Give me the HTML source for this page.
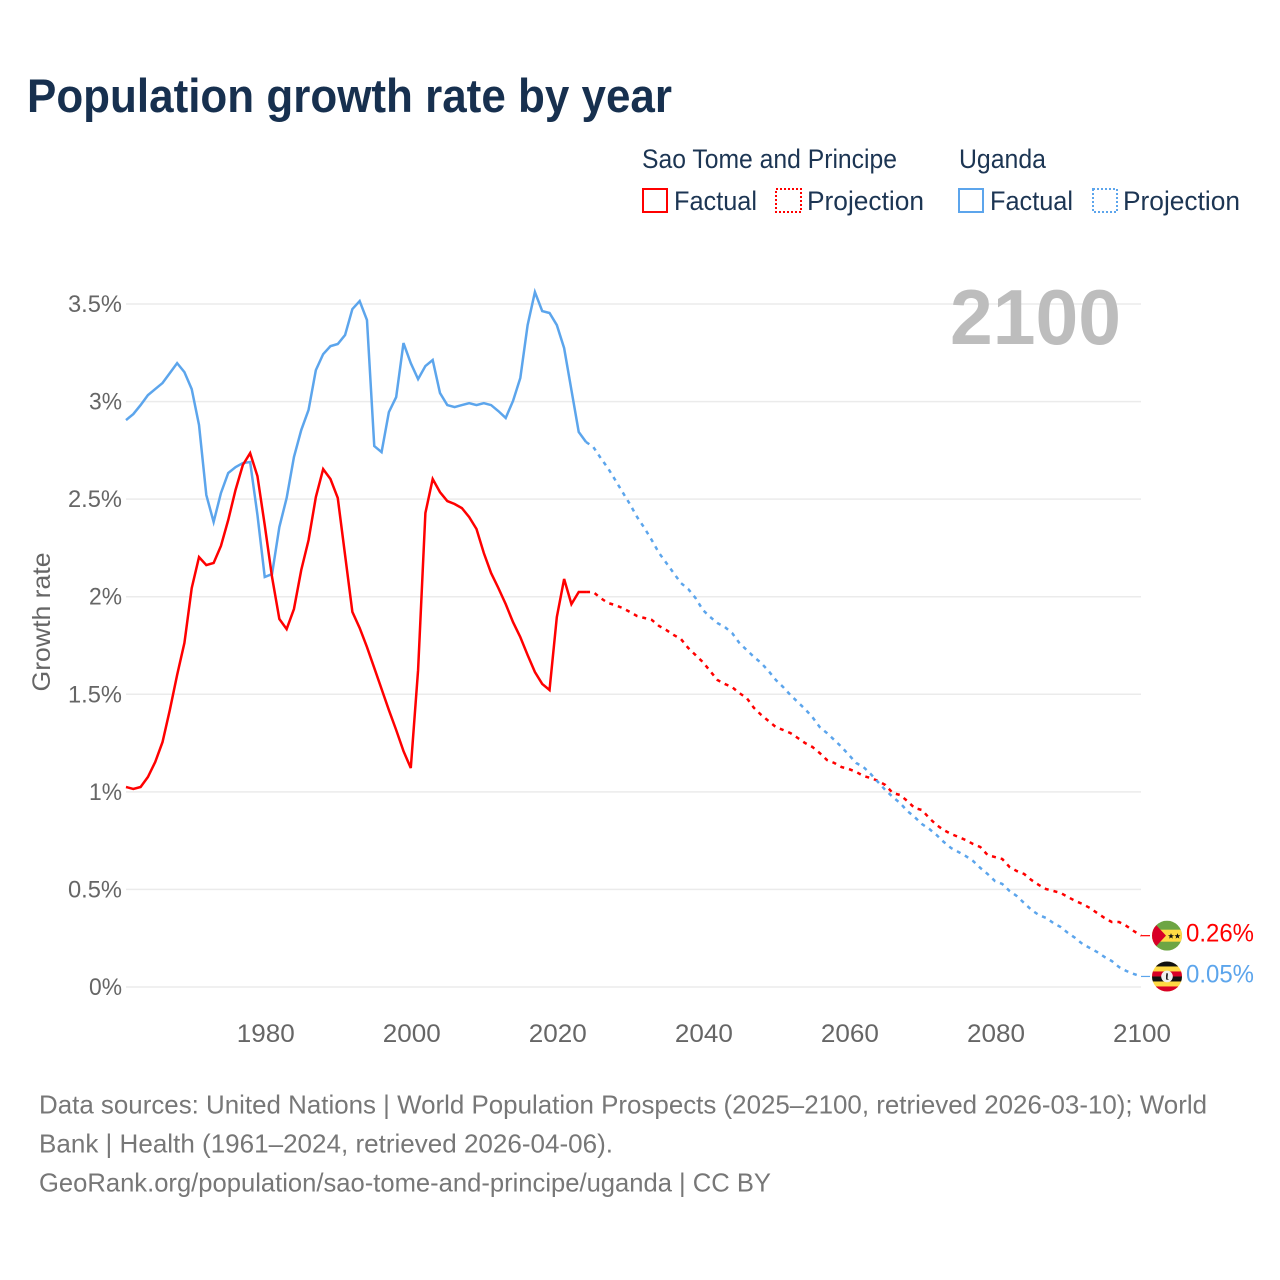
<!DOCTYPE html>
<html lang="en">
<head>
<meta charset="utf-8">
<title>Population growth rate by year</title>
<style>
html,body{margin:0;padding:0;background:#fff;}
svg{display:block;}
text{font-family:"Liberation Sans",sans-serif;}
</style>
</head>
<body>
<svg id="chart" width="1280" height="1280" viewBox="0 0 1280 1280" xmlns="http://www.w3.org/2000/svg">
  <defs>
    <clipPath id="flag-clip-a"><circle cx="0" cy="0" r="15"/></clipPath>
    <clipPath id="flag-clip-b"><circle cx="0" cy="0" r="15"/></clipPath>
  </defs>
  <rect width="1280" height="1280" fill="#ffffff"/>
  <text x="27" y="112" font-size="47" font-weight="700" fill="#17304f" textLength="645" lengthAdjust="spacingAndGlyphs">Population growth rate by year</text>

  <g font-size="27" fill="#1c3553">
    <text x="642" y="168" textLength="255" lengthAdjust="spacingAndGlyphs">Sao Tome and Principe</text>
    <text x="959" y="168" textLength="87" lengthAdjust="spacingAndGlyphs">Uganda</text>
    <rect x="643" y="189" width="24" height="23" fill="none" stroke="#ff0000" stroke-width="2"/>
    <text x="674" y="210" textLength="83" lengthAdjust="spacingAndGlyphs">Factual</text>
    <rect x="776" y="189" width="25" height="23" fill="none" stroke="#ff0000" stroke-width="2" stroke-dasharray="2 2"/>
    <text x="807" y="210" textLength="117" lengthAdjust="spacingAndGlyphs">Projection</text>
    <rect x="959" y="189" width="24" height="23" fill="none" stroke="#5ca5ec" stroke-width="2"/>
    <text x="990" y="210" textLength="83" lengthAdjust="spacingAndGlyphs">Factual</text>
    <rect x="1093" y="189" width="24" height="23" fill="none" stroke="#5ca5ec" stroke-width="2" stroke-dasharray="2 2"/>
    <text x="1123" y="210" textLength="117" lengthAdjust="spacingAndGlyphs">Projection</text>
  </g>

  <g id="grid"></g>
  <g id="yticks"></g>
  <g id="xticks"></g>
  <text transform="translate(50,622) rotate(-90)" text-anchor="middle" font-size="25" fill="#666666" textLength="139" lengthAdjust="spacingAndGlyphs">Growth rate</text>
  <text x="950" y="344" font-size="78" font-weight="700" fill="#bdbdbd" textLength="171" lengthAdjust="spacingAndGlyphs">2100</text>
  <g id="series"></g>

  <g id="flag-stp">
    <g clip-path="url(#flag-clip-a)">
      <rect x="-15" y="-15" width="30" height="30" fill="#6da544"/>
      <rect x="-15" y="-6" width="30" height="12" fill="#ffda44"/>
      <polygon points="-15,-15 -1,0 -15,15" fill="#d80027"/>
      <polygon points="4,-2.5 4.8,-0.4 7,-0.4 5.2,0.9 5.9,3 4,1.7 2.1,3 2.8,0.9 1,-0.4 3.2,-0.4" fill="#111"/>
      <polygon points="10.5,-2.5 11.3,-0.4 13.5,-0.4 11.7,0.9 12.4,3 10.5,1.7 8.6,3 9.3,0.9 7.5,-0.4 9.7,-0.4" fill="#111"/>
    </g>
  </g>
  <g id="flag-uga">
    <g clip-path="url(#flag-clip-b)">
      <rect x="-15" y="-15" width="30" height="30" fill="#ffda44"/>
      <rect x="-15" y="-15" width="30" height="5" fill="#111"/>
      <rect x="-15" y="-5" width="30" height="5" fill="#d80027"/>
      <rect x="-15" y="0" width="30" height="5" fill="#111"/>
      <rect x="-15" y="10" width="30" height="5" fill="#d80027"/>
      <circle cx="0" cy="0" r="5.8" fill="#f0f0f0"/>
      <path d="M-0.5 -3.5 L1 -3 L0.5 2 L2 3.5 L-1 3 L-1 -1 Z" fill="#222"/>
    </g>
  </g>
  <text id="label-stp" x="1186" font-size="25" fill="#ff0000" textLength="68" lengthAdjust="spacingAndGlyphs"></text>
  <text id="label-uga" x="1186" font-size="25" fill="#5ca5ec" textLength="68" lengthAdjust="spacingAndGlyphs"></text>

  <g font-size="26" fill="#777777">
    <text x="39" y="1113.5" textLength="1168" lengthAdjust="spacingAndGlyphs">Data sources: United Nations | World Population Prospects (2025–2100, retrieved 2026-03-10); World</text>
    <text x="39" y="1152.5" textLength="574" lengthAdjust="spacingAndGlyphs">Bank | Health (1961–2024, retrieved 2026-04-06).</text>
    <text x="39" y="1191.5" textLength="732" lengthAdjust="spacingAndGlyphs">GeoRank.org/population/sao-tome-and-principe/uganda | CC BY</text>
  </g>
</svg>
<script>
const firstFactualYear = 1961;
const firstProjectionYear = 2025;
const yTickValues = [0, 0.5, 1, 1.5, 2, 2.5, 3, 3.5];
const yTickLabels = ["0%", "0.5%", "1%", "1.5%", "2%", "2.5%", "3%", "3.5%"];
const xTickYears = [1980, 2000, 2020, 2040, 2060, 2080, 2100];
const endLabels = ["0.26%", "0.05%"];

const stpFactual = [
  1.025,1.015,1.025,1.076,1.153,1.255,1.419,1.599,1.763,2.044,
  2.203,2.162,2.173,2.260,2.393,2.547,2.675,2.736,2.618,2.367,
  2.101,1.886,1.834,1.937,2.137,2.290,2.511,2.654,2.603,2.506,
  2.214,1.922,1.840,1.742,1.635,1.527,1.419,1.317,1.209,1.122,
  1.624,2.429,2.603,2.536,2.490,2.475,2.454,2.408,2.347,2.224,
  2.121,2.044,1.962,1.870,1.793,1.701,1.614,1.553,1.522,1.896,
  2.091,1.962,2.024,2.024
];
const ugaFactual = [
  2.905,2.936,2.982,3.033,3.064,3.095,3.146,3.197,3.151,3.064,
  2.880,2.521,2.383,2.531,2.634,2.664,2.685,2.690,2.419,2.101,
  2.116,2.357,2.506,2.716,2.854,2.957,3.161,3.243,3.284,3.295,
  3.341,3.474,3.515,3.418,2.772,2.741,2.946,3.023,3.300,3.197,
  3.115,3.182,3.213,3.044,2.982,2.972,2.982,2.992,2.982,2.992,
  2.982,2.951,2.916,3.003,3.121,3.392,3.561,3.464,3.454,3.392,
  3.274,3.059,2.844,2.793
];
const stpProjection = [
  2.024,1.993,1.968,1.957,1.942,1.922,1.901,1.891,1.881,1.850,
  1.829,1.804,1.783,1.737,1.701,1.665,1.619,1.573,1.553,1.537,
  1.506,1.481,1.430,1.394,1.363,1.332,1.317,1.301,1.276,1.250,
  1.230,1.199,1.163,1.148,1.127,1.117,1.102,1.081,1.071,1.056,
  1.035,0.994,0.984,0.953,0.917,0.907,0.866,0.830,0.804,0.784,
  0.769,0.753,0.733,0.717,0.676,0.666,0.656,0.615,0.594,0.579,
  0.548,0.523,0.502,0.492,0.482,0.461,0.441,0.425,0.405,0.379,
  0.354,0.333,0.333,0.313,0.287,0.263
];
const ugaProjection = [
  2.767,2.711,2.659,2.598,2.536,2.475,2.408,2.352,2.290,2.224,
  2.173,2.121,2.070,2.039,1.993,1.932,1.896,1.865,1.845,1.814,
  1.763,1.727,1.691,1.660,1.619,1.573,1.537,1.496,1.460,1.424,
  1.383,1.332,1.301,1.266,1.230,1.189,1.148,1.127,1.091,1.050,
  1.009,0.974,0.943,0.902,0.871,0.835,0.810,0.779,0.743,0.712,
  0.692,0.671,0.646,0.610,0.579,0.543,0.528,0.492,0.466,0.430,
  0.395,0.369,0.354,0.328,0.307,0.277,0.251,0.220,0.200,0.179,
  0.154,0.133,0.102,0.082,0.067,0.054
];

const NS = "http://www.w3.org/2000/svg";
function xScale(year) { return 126 + (year - 1961) * (1015 / 139); }
function yScale(value) { return 987 - value * (683 / 3.5); }
function pathFrom(start, values) {
  return values.map(function (v, i) {
    return (i ? "L" : "M") + xScale(start + i).toFixed(2) + " " + yScale(v).toFixed(2);
  }).join(" ");
}

const gridGroup = document.getElementById("grid");
const yGroup = document.getElementById("yticks");
const xGroup = document.getElementById("xticks");
const seriesGroup = document.getElementById("series");

yTickValues.forEach(function (v, i) {
  const line = document.createElementNS(NS, "line");
  
  
  line.setAttribute("x1", 126);
  line.setAttribute("x2", 1141);
  line.setAttribute("y1", yScale(v));
  line.setAttribute("y2", yScale(v));
  line.setAttribute("stroke", "#ebebeb");
  line.setAttribute("stroke-width", "1.5");
  gridGroup.appendChild(line);

  const label = document.createElementNS(NS, "text");
  
  
  label.setAttribute("x", 122);
  label.setAttribute("y", yScale(v) + 8);
  label.setAttribute("text-anchor", "end");
  label.setAttribute("font-size", "24.5");
  label.setAttribute("fill", "#666666");
  label.setAttribute("textLength", yTickLabels[i].length > 2 ? "54" : "33");
  label.setAttribute("lengthAdjust", "spacingAndGlyphs");
  label.textContent = yTickLabels[i];
  yGroup.appendChild(label);
});

xTickYears.forEach(function (year) {
  const label = document.createElementNS(NS, "text");
  
  
  label.setAttribute("x", xScale(year) + 1);
  label.setAttribute("y", 1042);
  label.setAttribute("text-anchor", "middle");
  label.setAttribute("font-size", "25");
  label.setAttribute("fill", "#666666");
  label.setAttribute("textLength", "58");
  label.setAttribute("lengthAdjust", "spacingAndGlyphs");
  label.textContent = String(year);
  xGroup.appendChild(label);
});

function drawFactual(values, colour, name) {
  const p = document.createElementNS(NS, "path");
  
  
  p.setAttribute("d", pathFrom(firstFactualYear, values));
  p.setAttribute("fill", "none");
  p.setAttribute("stroke", colour);
  p.setAttribute("stroke-width", "2.5");
  p.setAttribute("stroke-linejoin", "miter");
  seriesGroup.appendChild(p);
}
function drawProjection(factual, values, colour, name) {
  const p = document.createElementNS(NS, "path");
  
  
  p.setAttribute("d", pathFrom(firstProjectionYear - 1, [factual[factual.length - 1]].concat(values)));
  p.setAttribute("fill", "none");
  p.setAttribute("stroke", colour);
  p.setAttribute("stroke-width", "2.5");
  p.setAttribute("stroke-dasharray", "4 5");
  seriesGroup.appendChild(p);
}
function drawConnector(values, colour, name) {
  const last = yScale(values[values.length - 1]);
  const c = document.createElementNS(NS, "line");
  
  
  c.setAttribute("x1", 1141);
  c.setAttribute("x2", 1150);
  c.setAttribute("y1", last);
  c.setAttribute("y2", last);
  c.setAttribute("stroke", colour);
  c.setAttribute("stroke-width", "1.2");
  seriesGroup.appendChild(c);
}

drawFactual(ugaFactual, "#5ca5ec", "uganda-factual-line");
drawFactual(stpFactual, "#ff0000", "sao-tome-factual-line");
drawProjection(stpFactual, stpProjection, "#ff0000", "sao-tome-projection-line");
drawProjection(ugaFactual, ugaProjection, "#5ca5ec", "uganda-projection-line");
drawConnector(stpProjection, "#ff0000", "sao-tome-end-connector");
drawConnector(ugaProjection, "#5ca5ec", "uganda-end-connector");

const stpEnd = yScale(stpProjection[stpProjection.length - 1]);
const ugaEnd = yScale(ugaProjection[ugaProjection.length - 1]);
document.getElementById("flag-stp").setAttribute("transform", "translate(1167," + stpEnd + ")");
document.getElementById("flag-uga").setAttribute("transform", "translate(1167," + ugaEnd + ")");
const stpLabel = document.getElementById("label-stp");
stpLabel.setAttribute("y", stpEnd + 6);
stpLabel.textContent = endLabels[0];
const ugaLabel = document.getElementById("label-uga");
ugaLabel.setAttribute("y", ugaEnd + 6);
ugaLabel.textContent = endLabels[1];
</script>
</body>
</html>
